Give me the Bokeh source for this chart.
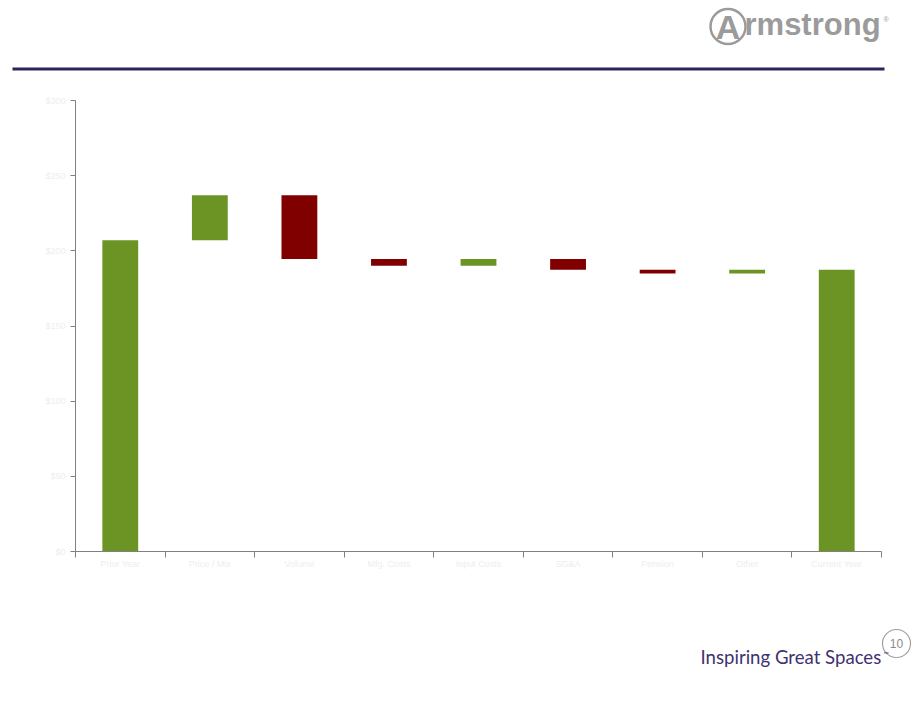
from bokeh.plotting import figure
from bokeh.models import Range1d, FixedTicker, LinearAxis
from bokeh.core.properties import value
from bokeh.embed import file_html
from bokeh.resources import INLINE

# ---- data ----
categories = ["Prior Year", "Price / Mix", "Volume", "Mfg. Costs", "Input Costs",
              "SG&A", "Pension", "Other", "Current Year"]
changes = [207.0, 30.0, -42.5, -4.5, 4.5, -7.0, -2.5, 2.5, 187.5]   # first/last are totals
y_ticks = [0, 50, 100, 150, 200, 250, 300]
y_tick_labels = ["$0", "$50", "$100", "$150", "$200", "$250", "$300"]

GREEN = "#6b9424"
RED = "#800000"
FAINT = "#eeeeee"

# ---- waterfall geometry from data ----
n = len(categories)
xs = [i + 0.5 for i in range(n)]
bottoms, tops, colors = [], [], []
running = 0.0
for i, c in enumerate(changes):
    if i == 0 or i == n - 1:
        bottoms.append(0.0)
        tops.append(c)
        running = c
        colors.append(GREEN)
    else:
        new = running + c
        bottoms.append(min(running, new))
        tops.append(max(running, new))
        colors.append(GREEN if c >= 0 else RED)
        running = new

# ---- page: the plot frame covers the whole canvas (page pixels) ----
W, H = 914, 706
# chart area in page pixels
CL, CR, CT, CB = 75, 881, 100, 551
YMAX = y_ticks[-1]
sx = (CR - CL) / n
sy = (CB - CT) / YMAX

p = figure(width=W, height=H, x_range=Range1d(0, W), y_range=Range1d(0, H),
           x_axis_type=None, y_axis_type=None, title=None,
           output_backend="svg", toolbar_location=None, min_border=0)
p.grid.visible = False
p.outline_line_color = None
p.extra_x_ranges = {"chart": Range1d(-CL / sx, n + (W - CR) / sx)}
p.extra_y_ranges = {"chart": Range1d(-(H - CB) / sy, YMAX + CT / sy)}

p.vbar(x=xs, width=0.4, bottom=bottoms, top=tops, fill_color=colors,
       line_color=None, x_range_name="chart", y_range_name="chart")

xaxis = LinearAxis(x_range_name="chart", y_range_name="chart", fixed_location=0,
                   bounds=(0, n))
xaxis.ticker = FixedTicker(ticks=xs, minor_ticks=list(range(n + 1)))
xaxis.major_label_overrides = {x: c for x, c in zip(xs, categories)}
xaxis.major_tick_line_color = None
xaxis.minor_tick_out = 6
xaxis.minor_tick_in = 0
xaxis.minor_tick_line_color = "#808080"
xaxis.axis_line_color = "#808080"
xaxis.major_label_text_color = FAINT
xaxis.major_label_text_font_size = "9px"
xaxis.major_label_text_font = "Liberation Sans"
xaxis.major_label_standoff = 1
p.add_layout(xaxis, "below")

yaxis = LinearAxis(x_range_name="chart", y_range_name="chart", fixed_location=0,
                   bounds=(0, YMAX))
yaxis.ticker = FixedTicker(ticks=y_ticks, minor_ticks=[])
yaxis.major_label_overrides = {t: l for t, l in zip(y_ticks, y_tick_labels)}
yaxis.axis_line_color = "#808080"
yaxis.major_tick_line_color = "#808080"
yaxis.major_tick_out = 5
yaxis.major_tick_in = 0
yaxis.major_label_text_color = FAINT
yaxis.major_label_text_font_size = "9px"
yaxis.major_label_text_font = "Liberation Sans"
p.add_layout(yaxis, "left")

# ---- slide decorations (page pixels, y measured from top) ----
def Y(py):
    return H - py

LOGO = "#9b9b9b"
p.segment(x0=[12], y0=[Y(68.5)], x1=[884], y1=[Y(68.5)], line_color="#2e2358",
          line_width=3)
p.circle(x=[727.5], y=[Y(26)], radius=17.5, line_color=LOGO, line_width=2.5,
         fill_color=None)
p.text(x=[727.5], y=[Y(26)], text=["A"], text_font=value("Liberation Sans"),
       text_font_style="bold", text_font_size="34px", text_color=LOGO,
       text_align="center", text_baseline="middle")
p.text(x=[744], y=[Y(24)], text=["rmstrong"], text_font=value("Liberation Sans"),
       text_font_style="bold", text_font_size="31px", text_color=LOGO,
       text_align="left", text_baseline="middle")
p.text(x=[883], y=[Y(19)], text=["®"], text_font=value("Liberation Sans"),
       text_font_size="7px", text_color=LOGO, text_align="left",
       text_baseline="middle")

p.circle(x=[896], y=[Y(643)], radius=14, line_color="#a0a0a0", line_width=1.2,
         fill_color=None)
p.text(x=[896], y=[Y(643)], text=["10"], text_font=value("Liberation Sans"),
       text_font_size="12px", text_color="#8a8a8a", text_align="center",
       text_baseline="middle")
p.text(x=[700], y=[Y(656)], text=["Inspiring Great Spaces"], text_font=value("Lato"),
       text_font_size="18.6px", text_color="#3f3170", text_align="left",
       text_baseline="middle")
p.text(x=[883], y=[Y(653)], text=["™"], text_font=value("Lato"),
       text_font_size="7px", text_color="#3f3170", text_align="left",
       text_baseline="middle")

open("out.html", "w").write(file_html(p, INLINE))
